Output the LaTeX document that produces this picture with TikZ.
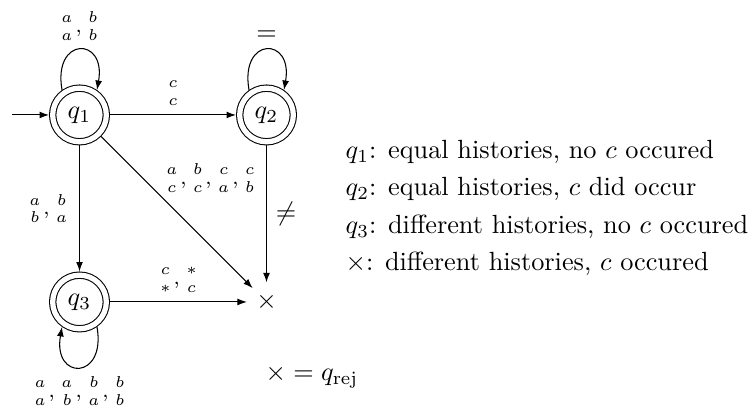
\documentclass[tikz,border=0pt]{standalone}
\usetikzlibrary{arrows.meta}

% stacked input pair: upper over lower letter
\newcommand{\iop}[2]{{#1\atop #2}}

\begin{document}
\begin{tikzpicture}[
>={Latex[length=3.6pt,width=2.6pt]},
accstate/.style={circle, draw, double, double distance=2pt, minimum size=20.4pt, inner sep=0pt, outer sep=1.4pt},
sink/.style={circle, minimum size=14.5pt, inner sep=0pt},
selfloop/.style={->, looseness=4},
pair/.style={font=\footnotesize},
note/.style={anchor=west, inner sep=0pt, align=left}
]

    \useasboundingbox (-1.063,-3.971) rectangle (9.004,1.537);

    % States
    \node[accstate] (q1) at (0,0) {$q_1$};
    \node[accstate] (q2) at (2.5,0) {$q_2$};
    \node[accstate] (q3) at (0,-2.5) {$q_3$};
    \node[sink] (rej) at (2.5,-2.5) {$\times$};

    % Initial arrow
    \coordinate (init) at (-0.9,0);
    \draw[->] (init) -- (q1);

    % Loops
    \draw[selfloop] (q1.125) to[out=100, in=80] node[pair, above] {$\iop{a}{a},\iop{b}{b}$} (q1.55);
    \draw[selfloop] (q2.125) to[out=100, in=80] node[above] {$=$} (q2.55);
    \draw[selfloop] (q3.-55) to[out=-80, in=-100] node[pair, below] {$\iop{a}{a},\iop{a}{b},\iop{b}{a},\iop{b}{b}$} (q3.-125);

    % Transitions
    \draw[->] (q1) -- node[pair, above] {$\iop{c}{c}$} (q2);
    \draw[->] (q1) -- node[pair, left] {$\iop{a}{b},\iop{b}{a}$} (q3);
    \draw[->] (q1) -- node[pair, pos=0.39, anchor=south west, inner sep=1pt] {$\iop{a}{c},\iop{b}{c},\iop{c}{a},\iop{c}{b}$} (rej);
    \draw[->] (q2) -- node[right] {$\neq$} (rej);
    \draw[->] (q3) -- node[pair, above] {$\iop{c}{*},\iop{*}{c}$} (rej);

    % Legend
    \node[note] (legend) at (3.55,-1.243) {$q_1$: equal histories, no $c$ occured\\[2.3pt]
        $q_2$: equal histories, $c$ did occur\\[2.3pt]
        $q_3$: different histories, no $c$ occured\\[2.3pt]
        $\times$: different histories, $c$ occured};
    \node[note] (rejnote) at (2.48,-3.50) {$\times = q_{\mathrm{rej}}$};

\end{tikzpicture}
\end{document}
